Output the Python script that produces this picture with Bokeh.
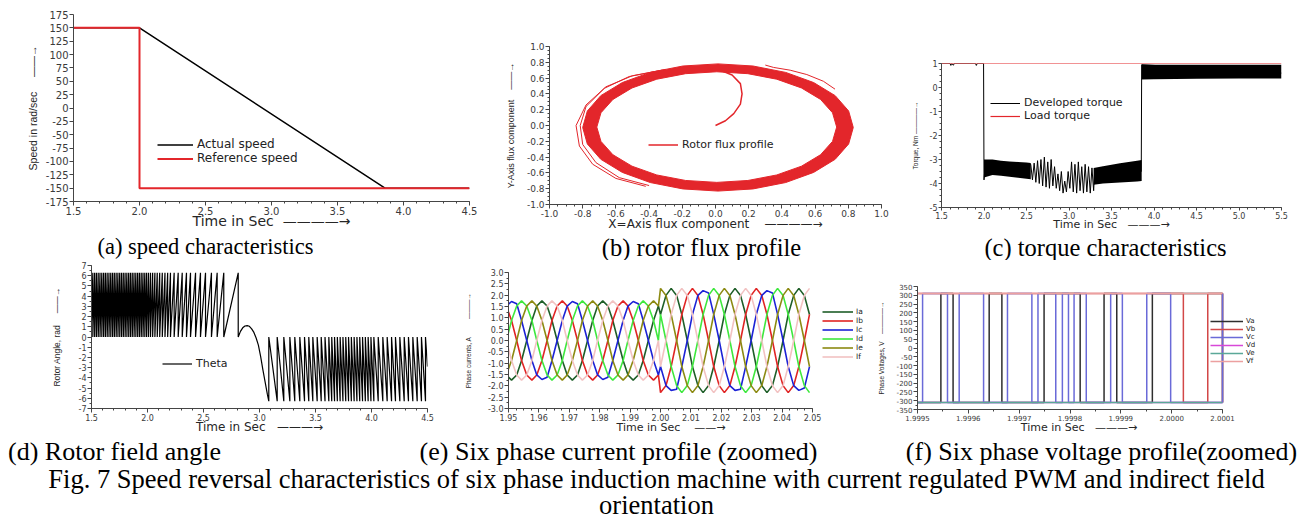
import numpy as np
from bokeh.plotting import figure
from bokeh.models import Range1d, FixedTicker, NumeralTickFormatter, Legend, LegendItem, Label
from bokeh.layouts import column, row
from bokeh.embed import file_html
from bokeh.resources import INLINE

# ======================= DATA =======================
# (a) speed characteristics
speed_time_actual = [1.5, 2.0, 3.86, 4.5]
speed_actual = [150, 150, -150, -150]
speed_time_ref = [1.5, 2.0, 2.0, 4.5]
speed_reference = [150, 150, -150, -150]

# (b) rotor flux profile (read points of the red band, stray loops and start-up spiral)
flux_outer_x = [0.830, 0.802, 0.721, 0.591, 0.423, 0.226, 0.015, -0.196, -0.393, -0.561, -0.691, -0.772,
                -0.800, -0.772, -0.691, -0.561, -0.393, -0.196, 0.015, 0.226, 0.423, 0.591, 0.721, 0.802]
flux_outer_y = [-0.025, 0.184, 0.378, 0.544, 0.672, 0.753, 0.780, 0.753, 0.672, 0.544, 0.378, 0.184,
                -0.025, -0.234, -0.428, -0.594, -0.722, -0.803, -0.830, -0.803, -0.722, -0.594, -0.428, -0.234]
flux_inner_x = [0.730, 0.705, 0.633, 0.518, 0.369, 0.195, 0.008, -0.180, -0.354, -0.503, -0.618, -0.690,
                -0.715, -0.690, -0.618, -0.503, -0.354, -0.180, 0.008, 0.195, 0.369, 0.518, 0.633, 0.705]
flux_inner_y = [-0.020, 0.161, 0.330, 0.475, 0.586, 0.656, 0.680, 0.656, 0.586, 0.475, 0.330, 0.161,
                -0.020, -0.201, -0.370, -0.515, -0.626, -0.696, -0.720, -0.696, -0.626, -0.515, -0.370, -0.201]
flux_stray1_x = [-0.30, -0.50, -0.66, -0.78, -0.84, -0.82, -0.74, -0.60, -0.42]
flux_stray1_y = [0.71, 0.63, 0.49, 0.26, 0.00, -0.26, -0.49, -0.67, -0.77]
flux_stray2_x = [-0.32, -0.52, -0.67, -0.78, -0.815, -0.80, -0.72, -0.58, -0.40]
flux_stray2_y = [0.70, 0.62, 0.47, 0.24, 0.00, -0.24, -0.47, -0.66, -0.76]
flux_stray3_x = [0.30, 0.35, 0.45, 0.55, 0.65, 0.72]
flux_stray3_y = [0.765, 0.735, 0.70, 0.645, 0.56, 0.46]
flux_start_x = [0.0, 0.06, 0.11, 0.15, 0.16, 0.15, 0.10, 0.03, -0.05]
flux_start_y = [0.0, 0.06, 0.15, 0.27, 0.40, 0.53, 0.64, 0.70, 0.72]

# (c) torque characteristics
torque_load_time = [1.5, 5.5]
torque_load = [1.0, 1.0]
torque_dev_time = [1.50, 1.60, 1.61, 1.62, 1.64, 1.65, 1.66, 1.90, 1.91, 1.92, 1.995, 2.000, 2.010,
                   2.55, 2.57, 2.59, 2.61, 2.63, 2.65, 2.67, 2.69, 2.71, 2.73, 2.75, 2.77, 2.79, 2.81,
                   2.83, 2.85, 2.87, 2.89, 2.91, 2.93, 2.95, 2.97, 2.99, 3.01, 3.03, 3.05, 3.07, 3.09,
                   3.11, 3.13, 3.15, 3.17, 3.19, 3.21, 3.23, 3.25, 3.27, 3.29, 3.30, 3.850, 3.855, 5.500]
torque_dev = [1.0, 1.0, 0.92, 1.0, 0.93, 1.0, 1.0, 1.0, 0.92, 1.0, 1.0, -3.85, -3.40,
              -3.20, -3.85, -3.15, -3.95, -3.05, -4.00, -3.00, -4.10, -2.90, -4.15, -3.10, -4.20, -3.00, -4.10,
              -3.30, -4.20, -3.60, -4.30, -3.50, -4.40, -3.90, -4.35, -3.50, -4.20, -3.10, -4.35, -3.20, -4.40,
              -3.10, -4.30, -3.30, -4.40, -3.20, -4.35, -3.30, -4.40, -3.35, -4.30, -3.60, -3.50, 0.95, 0.60]
torque_band1_time = [2.0, 2.1, 2.2, 2.3, 2.4, 2.5, 2.55]
torque_band1_upper = [-3.00, -3.00, -3.05, -3.08, -3.10, -3.12, -3.15]
torque_band1_lower = [-3.75, -3.65, -3.68, -3.72, -3.76, -3.80, -3.82]
torque_band2_time = [3.29, 3.4, 3.5, 3.6, 3.7, 3.8, 3.855]
torque_band2_upper = [-3.35, -3.28, -3.22, -3.16, -3.10, -3.05, -3.02]
torque_band2_lower = [-4.05, -4.00, -3.98, -3.96, -3.94, -3.92, -3.90]
torque_band3_time = [3.855, 4.0, 4.5, 5.0, 5.5]
torque_band3_upper = [0.95, 0.95, 0.95, 0.95, 0.95]
torque_band3_lower = [0.33, 0.34, 0.36, 0.37, 0.38]

# (d) rotor field angle: wrap instants of the sawtooth and the reversal bump
theta_peak = 6.28
theta_start_time, theta_start_value = 1.5, 1.6
theta_pos_resets = [1.512, 1.528, 1.544, 1.560, 1.576, 1.592, 1.608, 1.624, 1.640, 1.656, 1.672, 1.688,
                    1.704, 1.720, 1.736, 1.752, 1.768, 1.784, 1.800, 1.816, 1.832, 1.848, 1.864, 1.880,
                    1.896, 1.912, 1.928, 1.944, 1.960, 1.976, 1.992, 2.009, 2.027, 2.046, 2.066, 2.087,
                    2.109, 2.132, 2.156, 2.180, 2.205, 2.238, 2.274, 2.310, 2.348, 2.384, 2.429, 2.473,
                    2.518, 2.571, 2.622, 2.681, 2.810]
theta_bump_time = [2.830, 2.850, 2.870, 2.890, 2.910, 2.930, 2.950, 2.970, 2.990, 3.010, 3.030, 3.050, 3.070]
theta_bump_value = [0.55, 0.90, 1.08, 1.12, 1.05, 0.80, 0.45, -0.10, -0.80, -1.90, -3.20, -4.40, -5.60]
theta_neg_resets = [3.083, 3.158, 3.217, 3.271, 3.315, 3.360, 3.402, 3.440, 3.476, 3.515, 3.551, 3.585,
                    3.619, 3.645, 3.670, 3.695, 3.720, 3.745, 3.770, 3.795, 3.820, 3.845, 3.870, 3.895,
                    3.920, 3.945, 3.970, 3.995, 4.021, 4.060, 4.101, 4.140, 4.179, 4.214, 4.253, 4.292,
                    4.330, 4.369, 4.408, 4.446, 4.482]
theta_end_time, theta_end_value = 4.5, -2.9

# (e) six phase currents (zoomed)
phase_time = [1.9493, 1.9510, 1.9527, 1.9543, 1.9560, 1.9577, 1.9593, 1.9610, 1.9627, 1.9643, 1.9660,
              1.9677, 1.9693, 1.9710, 1.9727, 1.9743, 1.9760, 1.9777, 1.9793, 1.9810, 1.9827, 1.9843,
              1.9860, 1.9877, 1.9893, 1.9910, 1.9927, 1.9943, 1.9960, 1.9977, 1.9993,
              2.0000, 2.0018, 2.0035, 2.0053, 2.0070, 2.0088, 2.0105, 2.0123, 2.0140, 2.0158, 2.0175,
              2.0193, 2.0210, 2.0228, 2.0245, 2.0263, 2.0280, 2.0298, 2.0315, 2.0333, 2.0350, 2.0368,
              2.0385, 2.0403, 2.0420, 2.0438, 2.0455, 2.0473, 2.0490]
current_ia = [-1.52, -1.75, -1.52, -0.88, 0, 0.88, 1.52, 1.75, 1.52, 0.88, 0, -0.88,
              -1.52, -1.75, -1.52, -0.88, 0, 0.88, 1.52, 1.75, 1.52, 0.88, 0, -0.88,
              -1.52, -1.75, -1.52, -0.88, 0, 0.88, 1.52,
              1.15, 1.99, 2.3, 1.99, 1.15, 0, -1.15, -1.99, -2.3, -1.99, -1.15, 0,
              1.15, 1.99, 2.3, 1.99, 1.15, 0, -1.15, -1.99, -2.3, -1.99, -1.15, 0,
              1.15, 1.99, 2.3, 1.99, 1.15]
current_ib = [1.52, 0.88, 0, -0.88, -1.52, -1.75, -1.52, -0.88, 0, 0.88, 1.52, 1.75,
              1.52, 0.88, 0, -0.88, -1.52, -1.75, -1.52, -0.88, 0, 0.88, 1.52, 1.75,
              1.52, 0.88, 0, -0.88, -1.52, -1.75, -1.52,
              -2.3, -1.99, -1.15, 0, 1.15, 1.99, 2.3, 1.99, 1.15, 0, -1.15, -1.99,
              -2.3, -1.99, -1.15, 0, 1.15, 1.99, 2.3, 1.99, 1.15, 0, -1.15, -1.99,
              -2.3, -1.99, -1.15, 0, 1.15]
current_ic = [1.52, 1.72, 1.62, 0.88, 0, -0.88, -1.52, -1.72, -1.62, -0.88, 0, 0.88,
              1.52, 1.72, 1.62, 0.88, 0, -0.88, -1.52, -1.72, -1.62, -0.88, 0, 0.88,
              1.52, 1.72, 1.62, 0.88, 0, -0.88, -1.52,
              -1.15, -1.99, -2.2, -2.15, -1.15, 0, 1.15, 1.99, 2.2, 2.1, 1.15, 0,
              -1.15, -1.99, -2.2, -2.15, -1.15, 0, 1.15, 1.99, 2.2, 2.1, 1.15, 0,
              -1.15, -1.99, -2.2, -2.1, -1.15]
current_id = [0, 0.88, 1.52, 1.75, 1.52, 0.88, 0, -0.88, -1.52, -1.75, -1.52, -0.88,
              0, 0.88, 1.52, 1.75, 1.52, 0.88, 0, -0.88, -1.52, -1.75, -1.52, -0.88,
              0, 0.88, 1.52, 1.75, 1.52, 0.88, 0,
              1.15, 0, -1.15, -1.99, -2.3, -1.99, -1.15, 0, 1.15, 1.99, 2.3, 1.99,
              1.15, 0, -1.15, -1.99, -2.3, -1.99, -1.15, 0, 1.15, 1.99, 2.3, 1.99,
              1.15, 0, -1.15, -1.99, -2.3]
current_ie = [-1.52, -0.88, 0, 0.88, 1.52, 1.75, 1.52, 0.88, 0, -0.88, -1.52, -1.75,
              -1.52, -0.88, 0, 0.88, 1.52, 1.75, 1.52, 0.88, 0, -0.88, -1.52, -1.75,
              -1.52, -0.88, 0, 0.88, 1.52, 1.75, 1.52,
              2.3, 1.99, 1.15, 0, -1.15, -1.99, -2.3, -1.99, -1.15, 0, 1.15, 1.99,
              2.3, 1.99, 1.15, 0, -1.15, -1.99, -2.3, -1.99, -1.15, 0, 1.15, 1.99,
              2.3, 1.99, 1.15, 0, -1.15]
current_if = [0, -0.88, -1.52, -1.75, -1.52, -0.88, 0, 0.88, 1.52, 1.75, 1.52, 0.88,
              0, -0.88, -1.52, -1.75, -1.52, -0.88, 0, 0.88, 1.52, 1.75, 1.52, 0.88,
              0, -0.88, -1.52, -1.75, -1.52, -0.88, 0,
              -1.15, 0, 1.15, 1.99, 2.3, 1.99, 1.15, 0, -1.15, -1.99, -2.3, -1.99,
              -1.15, 0, 1.15, 1.99, 2.3, 1.99, 1.15, 0, -1.15, -1.99, -2.3, -1.99,
              -1.15, 0, 1.15, 1.99, 2.3]
phase_labels = ["Ia", "Ib", "Ic", "Id", "Ie", "If"]

# (f) six phase voltages (zoomed): switching instants and dc level
volt_level = 310
volt_start, volt_end = 1.9995, 2.0001
va_switch = [1.999546, 1.999570, 1.999641, 1.999666, 1.999749, 1.999820, 1.999867, 1.999892, 1.999962]
vb_switch = [2.000023, 2.000071]
vc_switch = [1.999510, 1.999559, 1.999582, 1.999630, 1.999677, 1.999725, 1.999737, 1.999772,
             1.999785, 1.999797, 1.999808, 1.999832, 1.999880, 1.999903, 1.999951, 1.999998]
vd_level, ve_level, vf_level = -310, -310, 310
voltage_labels = ["Va", "Vb", "Vc", "Vd", "Ve", "Vf"]

# ======================= STYLE HELPERS =======================
RED = "#e3262b"
AX = "#454545"
TXT = "#262626"
NB = "\u00a0"
DASH = "\u2014"
ARROW = "\u2192"


def arrowed(text, gap, dashes, tail=0):
    return text + NB * gap + DASH * dashes + ARROW + NB * tail


def grid_vals(a, b, step):
    n = int(round((b - a) / step))
    return [round(a + i * step, 7) for i in range(n + 1)]


def base_fig(w, h, bl, br, bt, bb, xr, yr):
    p = figure(width=w, height=h, x_range=Range1d(xr[0], xr[1]), y_range=Range1d(yr[0], yr[1]),
               output_backend="svg", toolbar_location=None, tools="")
    p.min_border_left = bl
    p.min_border_right = br
    p.min_border_top = bt
    p.min_border_bottom = bb
    p.outline_line_color = None
    p.grid.visible = False
    p.background_fill_color = "white"
    p.border_fill_color = "white"
    return p


def style_axes(p, xt, xm, yt, ym, xfmt, yfmt, tick_px, xlabel, xlab_px, xstand, ylabel, ylab_px, ystand,
               tick_out=4):
    for ax in (p.xaxis[0], p.yaxis[0]):
        ax.axis_line_color = AX
        ax.major_tick_line_color = AX
        ax.minor_tick_line_color = AX
        ax.major_tick_out = tick_out
        ax.major_tick_in = 0
        ax.minor_tick_out = 2
        ax.minor_tick_in = 0
        ax.major_label_text_font = "DejaVu Sans"
        ax.major_label_text_font_size = f"{tick_px}px"
        ax.major_label_text_color = "#3a3a3a"
        ax.major_label_standoff = 1
        ax.axis_label_text_font_style = "normal"
        ax.axis_label_text_color = TXT
    xa, ya = p.xaxis[0], p.yaxis[0]
    xa.ticker = FixedTicker(ticks=xt, minor_ticks=xm)
    ya.ticker = FixedTicker(ticks=yt, minor_ticks=ym)
    xa.formatter = NumeralTickFormatter(format=xfmt)
    ya.formatter = NumeralTickFormatter(format=yfmt)
    xa.axis_label = xlabel
    xa.axis_label_text_font = "DejaVu Sans"
    xa.axis_label_text_font_size = f"{xlab_px}px"
    xa.axis_label_standoff = xstand
    ya.axis_label = ylabel
    ya.axis_label_text_font = "Liberation Sans"
    ya.axis_label_text_font_size = f"{ylab_px}px"
    ya.axis_label_standoff = ystand


def make_legend(items, loc, font_px, glyph_w, item_h, standoff=4):
    return Legend(items=items, location=loc, padding=0, margin=0, spacing=0,
                  border_line_color=None, background_fill_alpha=0,
                  label_text_font="DejaVu Sans", label_text_font_size=f"{font_px}px",
                  label_text_color="#222222", glyph_width=glyph_w, glyph_height=item_h,
                  label_height=item_h, label_standoff=standoff)


# ======================= (a) =======================
pa = base_fig(488, 231, 73, 19, 14, 29, (1.5, 4.5), (-175, 175))
style_axes(pa, grid_vals(1.5, 4.5, 0.5), grid_vals(1.5, 4.5, 0.1), grid_vals(-175, 175, 25), [],
           "0.0", "0", 10, arrowed("Time in Sec", 2, 4), 14, -5,
           arrowed("Speed in rad/sec", 5, 2), 10.5, 4)
ra_act = pa.line(speed_time_actual, speed_actual, line_color="black", line_width=1.5)
ra_ref = pa.line(speed_time_ref, speed_reference, line_color=RED, line_width=2)
pa.add_layout(make_legend([LegendItem(label="Actual speed", renderers=[ra_act]),
                           LegendItem(label="Reference speed", renderers=[ra_ref])],
                          (84, 36), 12, 36, 11))

# ======================= (b) =======================
pb = base_fig(412, 233, 61, 19, 46, 26, (-1.0, 1.0), (-1.0, 1.0))
style_axes(pb, grid_vals(-1.0, 1.0, 0.2), grid_vals(-1.0, 1.0, 0.05), grid_vals(-1.0, 1.0, 0.2),
           grid_vals(-1.0, 1.0, 0.05), "0.0", "0.0", 9, arrowed("X=Axis flux component", 4, 4), 12, -3,
           arrowed("Y-Axis flux component", 4, 2), 9, 8)
pb.multi_polygons(xs=[[[flux_outer_x, flux_inner_x]]], ys=[[[flux_outer_y, flux_inner_y]]],
                  fill_color=RED, line_color=RED, line_width=1)
for sx, sy in ((flux_stray1_x, flux_stray1_y), (flux_stray2_x, flux_stray2_y), (flux_stray3_x, flux_stray3_y)):
    pb.line(sx, sy, line_color=RED, line_width=1)
rb = pb.line(flux_start_x, flux_start_y, line_color=RED, line_width=1.5)
pb.add_layout(make_legend([LegendItem(label="Rotor flux profile", renderers=[rb])], (99, 53), 11, 30, 11))

# ======================= (c) =======================
pc = base_fig(413, 233, 41, 32, 63, 22, (1.5, 5.5), (-5, 1))
style_axes(pc, grid_vals(1.5, 5.5, 0.5), grid_vals(1.5, 5.5, 0.1), grid_vals(-5, 1, 1), grid_vals(-5, 1, 0.25),
           "0.0", "0", 8, arrowed("Time in Sec", 3, 3), 11, -4,
           arrowed("Torque, Nm", 1, 4), 6.5, 8, tick_out=3)
for bt_, bu_, bl_ in ((torque_band1_time, torque_band1_upper, torque_band1_lower),
                      (torque_band2_time, torque_band2_upper, torque_band2_lower),
                      (torque_band3_time, torque_band3_upper, torque_band3_lower)):
    pc.varea(x=bt_, y1=bl_, y2=bu_, fill_color="black")
rc_dev = pc.line(torque_dev_time, torque_dev, line_color="black", line_width=1)
rc_load = pc.line(torque_load_time, torque_load, line_color=RED, line_width=1.2)
pc.add_layout(make_legend([LegendItem(label="Developed torque", renderers=[rc_dev]),
                           LegendItem(label="Load torque", renderers=[rc_load])],
                          (49, 85), 11, 30, 10))

# ======================= (d) =======================
theta_x = [theta_start_time]
theta_y = [theta_start_value]
for t in theta_pos_resets:
    theta_x += [t, t]
    theta_y += [theta_peak, 0.0]
theta_x += theta_bump_time
theta_y += theta_bump_value
for t in theta_neg_resets:
    theta_x += [t, t]
    theta_y += [-theta_peak, 0.0]
theta_x.append(theta_end_time)
theta_y.append(theta_end_value)

pd_ = base_fig(455, 176, 91, 28, 5, 25, (1.5, 4.5), (-7, 7))
style_axes(pd_, grid_vals(1.5, 4.5, 0.5), grid_vals(1.5, 4.5, 0.1), grid_vals(-7, 7, 1), grid_vals(-7, 7, 0.5),
           "0.0", "0", 8, arrowed("Time in Sec", 3, 3), 12, -4,
           arrowed("Rotor Angle, rad", 5, 2), 8.5, 14)
rd = pd_.line(theta_x, theta_y, line_color="black", line_width=1.2)
pd_.add_layout(make_legend([LegendItem(label="Theta", renderers=[rd])], (71, 38), 11, 30, 11))

# ======================= (e) =======================
# frame widened to the right to hold the legend; the axis itself stops at 2.05
pe = base_fig(415, 176, 53, 2, 12, 25, (1.95, 2.0684), (-3.0, 3.0))
style_axes(pe, grid_vals(1.95, 2.05, 0.01), grid_vals(1.95, 2.05, 0.0025), grid_vals(-3.0, 3.0, 0.5),
           grid_vals(-3.0, 3.0, 0.25), "0.00", "0.0", 8, arrowed("Time in Sec", 4, 2, 10), 11, -3,
           arrowed("Phase currents, A", 10, 3), 6.5, 13)
pe.xaxis[0].bounds = (1.95, 2.05)
phase_colors = ["#1e5e28", "#e02424", "#1c22d6", "#3ee83e", "#8c8a12", "#f2c2c2"]
phase_series = [current_ia, current_ib, current_ic, current_id, current_ie, current_if]
e_items = []
for lab, col, ser in zip(phase_labels, phase_colors, phase_series):
    r = pe.line(phase_time, ser, line_color=col, line_width=1.6)
    e_items.append(LegendItem(label=lab, renderers=[r]))
pe.add_layout(make_legend(e_items, (314, 47), 7.5, 31, 9, 3))

# ======================= (f) =======================
def step_path(switches, start_level):
    xs = [volt_start] + list(switches) + [volt_end]
    ys = []
    lev = start_level
    for _ in range(len(xs)):
        ys.append(lev)
        lev = -lev
    return xs, ys


pf = base_fig(443, 176, 47, 3, 26, 23, (1.9995, 2.0002731), (-350, 350))
style_axes(pf, grid_vals(1.9995, 2.0001, 0.0001), grid_vals(1.9995, 2.0001, 0.00005),
           grid_vals(-350, 350, 50), grid_vals(-350, 350, 25), "0.0000", "0", 7,
           arrowed("Time in Sec", 3, 3, 20), 11, -3, arrowed("Phase Voltages, V", 4, 4), 6.5, 9)
pf.xaxis[0].bounds = (1.9995, 2.0001)
va_x, va_y = step_path(va_switch, -volt_level)
vb_x, vb_y = step_path(vb_switch, volt_level)
vc_x, vc_y = step_path(vc_switch, -volt_level)
r_va = pf.step(va_x, va_y, mode="after", line_color="#2e2e2e", line_width=1.5)
r_vb = pf.step(vb_x, vb_y, mode="after", line_color="#d24848", line_width=1.5)
r_vc = pf.step(vc_x, vc_y, mode="after", line_color="#6a6ad8", line_width=1.5)
r_vd = pf.line([volt_start, volt_end], [vd_level, vd_level], line_color="#d848d8", line_width=1.5)
r_ve = pf.line([volt_start, volt_end], [ve_level, ve_level], line_color="#5aa898", line_width=1.5)
r_vf = pf.line([volt_start, volt_end], [vf_level, vf_level], line_color="#eca0a0", line_width=1.5)
f_items = [LegendItem(label=l, renderers=[r]) for l, r in
           zip(voltage_labels, [r_va, r_vb, r_vc, r_vd, r_ve, r_vf])]
pf.add_layout(make_legend(f_items, (293, 44), 7, 33, 8, 3))

# ======================= CAPTIONS =======================
def caption_fig(w, h):
    p = figure(width=w, height=h, x_range=Range1d(0, 1), y_range=Range1d(0, 1),
               output_backend="svg", toolbar_location=None, tools="",
               x_axis_type=None, y_axis_type=None, min_border=0)
    p.outline_line_color = None
    p.background_fill_color = "white"
    p.border_fill_color = "white"
    return p


def cap_label(x, y, text, size):
    return Label(x=x, y=y, x_units="screen", y_units="screen", text=text,
                 text_font="Liberation Serif", text_font_size=f"{size}px",
                 text_align="center", text_baseline="middle", text_color="black")


capA = caption_fig(488, 29)
capA.add_layout(cap_label(205, 14, "(a) speed characteristics", 22.5))
capB = caption_fig(412, 27)
capB.add_layout(cap_label(213, 13, "(b) rotor flux profile", 24.5))
capC = caption_fig(413, 27)
capC.add_layout(cap_label(205, 13, "(c) torque characteristics", 24.5))

cap2 = caption_fig(1313, 83)
cap2.add_layout(cap_label(114, 68, "(d) Rotor field angle", 26))
cap2.add_layout(cap_label(618, 68, "(e) Six phase current profile (zoomed)", 26))
cap2.add_layout(cap_label(1101, 68, "(f) Six phase voltage profile(zoomed)", 26))
cap2.add_layout(cap_label(656, 41, "Fig. 7 Speed reversal characteristics of six phase induction machine "
                                   "with current regulated PWM and indirect field", 26.5))
cap2.add_layout(cap_label(656, 15, "orientation", 26.5))

row1 = row(column(column(pa), column(capA)),
           column(column(pb), column(capB)),
           column(column(pc), column(capC)))
row2 = row(column(pd_), column(pe), column(pf))
layout = column(row1, row2, column(cap2))

open("out.html", "w").write(file_html(layout, INLINE))
